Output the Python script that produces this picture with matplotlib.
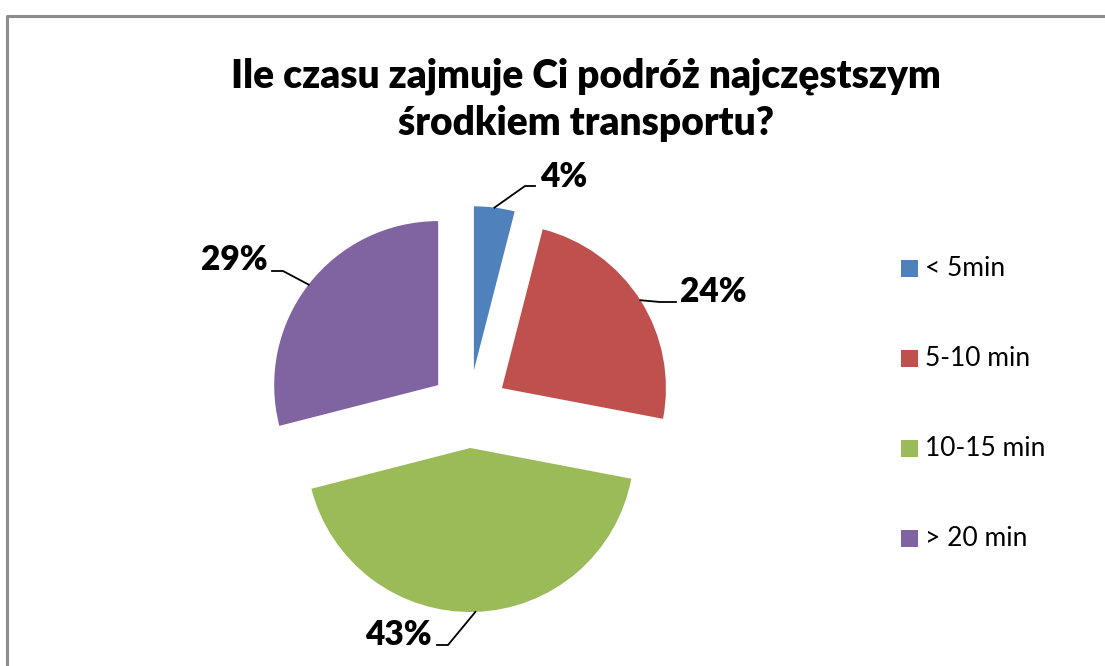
import matplotlib
matplotlib.use("Agg")
import matplotlib.pyplot as plt
import numpy as np

title = "Ile czasu zajmuje Ci podróż najczęstszym\nśrodkiem transportu?"
categories = ["< 5min", "5-10 min", "10-15 min", "> 20 min"]
values = [4, 24, 43, 29]
colors = ["#4F81BD", "#C0504D", "#9BBB59", "#8064A2"]

W, H = 1105, 666
fig = plt.figure(figsize=(W / 100, H / 100), dpi=100)
ax = fig.add_axes([0, 0, 1, 1])

# chart border (extends beyond the canvas on right/bottom)
ax.plot([6.5, 6.5, W + 5], [-5, H - 15.5, H - 15.5], color="#8c8c8c", lw=2.2,
        solid_capstyle="butt", zorder=1)

radius = 164
center = (469, H - 409)
explode = [39] * len(values)
wedges, _ = ax.pie(values, colors=colors, startangle=90, counterclock=False,
                   radius=radius, center=center, explode=explode,
                   wedgeprops=dict(linewidth=0), frame=True)
ax.set_xlim(0, W)
ax.set_ylim(0, H)
ax.set_aspect("equal")
ax.axis("off")

# label positions (text centre) and elbow points in pixel coords (y down), in values order
label_pos = [(564, 177), (713, 292), (398, 635), (234, 260)]
elbows = [[(525, 186), (535, 186)],
          [(660, 302), (676, 302)],
          [(448, 645), (437, 645)],
          [(283, 271), (272, 271)]]

lblfont = dict(family="Lato", fontweight="heavy", fontsize=24)
for w, v, (lx, ly), elb in zip(wedges, values, label_pos, elbows):
    th = np.deg2rad((w.theta1 + w.theta2) / 2)
    sx = w.center[0] + w.r * np.cos(th)
    sy = w.center[1] + w.r * np.sin(th)
    xs = [sx] + [e[0] for e in elb]
    ys = [sy] + [H - e[1] for e in elb]
    ax.plot(xs, ys, color="black", lw=1.3, zorder=5)
    ax.text(lx, H - ly, f"{v}%", ha="center", va="center", **lblfont)

fig.text(586 / W, 1 - 100 / H, title, ha="center", va="center",
         family="Lato", fontweight="heavy", fontsize=28, linespacing=1.32)

# legend
leg_y = [268, 358, 448, 538]
for c, lab, y in zip(colors, categories, leg_y):
    ax.add_patch(plt.Rectangle((901, H - y - 8.5), 17, 17, color=c, lw=0))
    ax.text(925, H - y, lab, ha="left", va="center", family="Lato", fontsize=19)

fig.savefig("out.png", dpi=100)
